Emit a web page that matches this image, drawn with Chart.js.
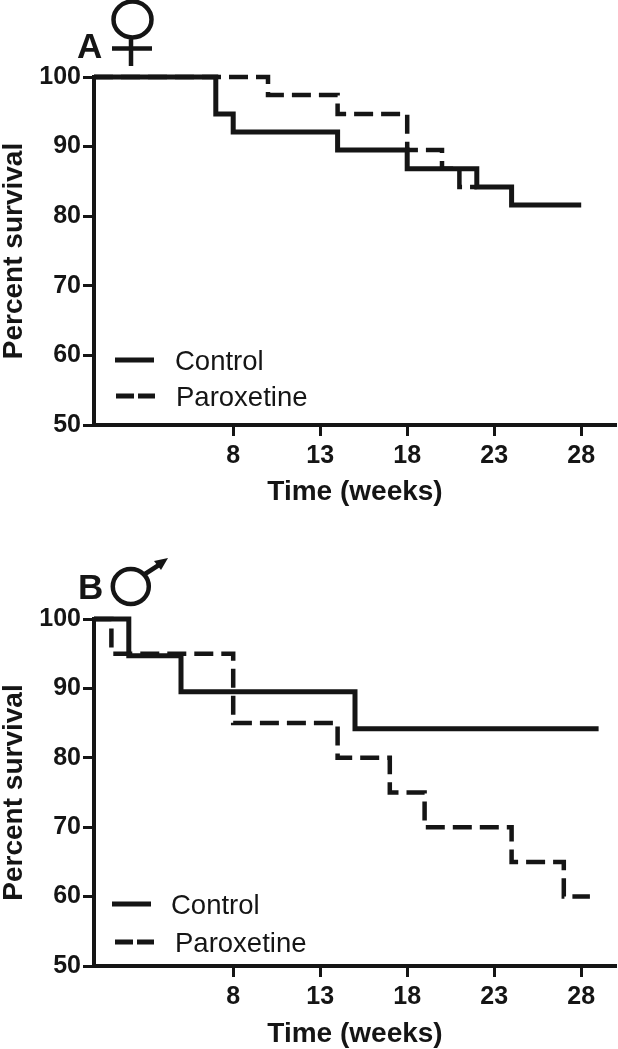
<!DOCTYPE html>
<html>
<head>
<meta charset="utf-8">
<style>
  html, body { margin: 0; padding: 0; background: #fff; }
  canvas { position: absolute; left: 0; }
</style>
<script src="https://cdn.jsdelivr.net/npm/chart.js@4"></script>
</head>
<body>
<canvas id="chartA" width="618" height="520" style="top:0"></canvas>
<canvas id="chartB" width="618" height="529" style="top:520px"></canvas>
<script>
const seriesNames = ['Control', 'Paroxetine'];
const xTicks = [8, 13, 18, 23, 28];
const yTicks = [50, 60, 70, 80, 90, 100];

// panel A, females. each point is the week where the curve steps down
const femaleControlWeeks = [0, 7, 8, 14, 18, 22, 24, 28];
const femaleControlSurvival = [100, 94.7, 92.1, 89.5, 86.8, 84.2, 81.6, 81.6];
const femaleParoxWeeks = [0, 10, 14, 18, 20, 21, 22];
const femaleParoxSurvival = [100, 97.4, 94.7, 89.5, 86.8, 84.2, 84.2];

// panel B, males
const maleControlWeeks = [0, 2, 5, 15, 29];
const maleControlSurvival = [100, 94.7, 89.5, 84.2, 84.2];
const maleParoxWeeks = [0, 1, 8, 14, 17, 19, 24, 27, 28.5];
const maleParoxSurvival = [100, 95, 85, 80, 75, 70, 65, 60, 60];

const ink = '#151515';
const fontFamily = '"Liberation Sans", Arial, sans-serif';

function toPoints(weeks, values) {
  return weeks.map((w, i) => ({ x: w, y: values[i] }));
}

// legend and panel mark sit at fixed spots in the figure
function annotations(draw) {
  return {
    id: 'annotations',
    afterDraw(chart) {
      const ctx = chart.ctx;
      ctx.save();
      ctx.strokeStyle = ink;
      ctx.fillStyle = ink;
      draw(ctx);
      ctx.restore();
    },
  };
}

function legendRow(ctx, name, x0, x1, y, textX, dash) {
  ctx.lineWidth = 5;
  ctx.setLineDash(dash);
  ctx.beginPath();
  ctx.moveTo(x0, y);
  ctx.lineTo(x1, y);
  ctx.stroke();
  ctx.setLineDash([]);
  ctx.font = '27.5px ' + fontFamily;
  ctx.textAlign = 'left';
  ctx.textBaseline = 'middle';
  ctx.fillText(name, textX, y + 2);
}

function panelLetter(ctx, letter, x, y) {
  ctx.font = 'bold 35px ' + fontFamily;
  ctx.textAlign = 'left';
  ctx.textBaseline = 'alphabetic';
  ctx.fillText(letter, x, y);
}

function makeChart(id, controlPts, paroxPts, plotTop, bottomHeight, titlePad, draw) {
  return new Chart(document.getElementById(id), {
    type: 'line',
    data: {
      datasets: [
        { label: seriesNames[0], data: controlPts, stepped: true, borderColor: ink, borderWidth: 5, pointRadius: 0, clip: false, borderCapStyle: 'butt' },
        { label: seriesNames[1], data: paroxPts, stepped: true, borderColor: ink, borderWidth: 4.5, borderDash: [19, 8], pointRadius: 0, clip: false, borderCapStyle: 'butt' },
      ],
    },
    options: {
      responsive: false,
      animation: false,
      layout: { padding: { top: plotTop, right: 2, left: 0, bottom: 0 } },
      plugins: { legend: { display: false }, tooltip: { enabled: false } },
      scales: {
        x: {
          type: 'linear',
          min: 0,
          max: 30,
          afterBuildTicks(axis) { axis.ticks = xTicks.map((v) => ({ value: v })); },
          afterFit(axis) { axis.height = bottomHeight; },
          border: { color: ink, width: 4 },
          grid: { drawOnChartArea: false, color: ink, tickLength: 11, tickWidth: 3, tickColor: ink },
          ticks: { color: ink, font: { family: fontFamily, size: 25, weight: 'bold' }, padding: 5, maxRotation: 0, autoSkip: false },
          title: { display: true, text: 'Time (weeks)', color: ink, font: { family: fontFamily, size: 28, weight: 'bold', lineHeight: 1 }, padding: { top: 0, bottom: titlePad } },
        },
        y: {
          min: 50,
          max: 100,
          afterBuildTicks(axis) { axis.ticks = yTicks.map((v) => ({ value: v })); },
          afterFit(axis) { axis.width = 94; },
          border: { color: ink, width: 4 },
          grid: { drawOnChartArea: false, color: ink, tickLength: 11, tickWidth: 3, tickColor: ink },
          ticks: { color: ink, font: { family: fontFamily, size: 25, weight: 'bold' }, padding: 2 },
          title: { display: true, text: 'Percent survival', color: ink, font: { family: fontFamily, size: 28, weight: 'bold', lineHeight: 1 }, padding: { top: 0, bottom: -2 } },
        },
      },
    },
    plugins: [annotations(draw)],
  });
}

makeChart('chartA', toPoints(femaleControlWeeks, femaleControlSurvival), toPoints(femaleParoxWeeks, femaleParoxSurvival), 77, 95, 14, (ctx) => {
  panelLetter(ctx, 'A', 77, 58);
  // female symbol
  ctx.lineWidth = 4.5;
  ctx.beginPath();
  ctx.ellipse(132.5, 19.5, 19, 18, 0, 0, Math.PI * 2);
  ctx.moveTo(131, 38);
  ctx.lineTo(131, 66);
  ctx.moveTo(112, 48.5);
  ctx.lineTo(152, 48.5);
  ctx.stroke();
  legendRow(ctx, seriesNames[0], 115, 154, 360, 175, []);
  legendRow(ctx, seriesNames[1], 116, 155, 396, 176, [18, 4]);
});

makeChart('chartB', toPoints(maleControlWeeks, maleControlSurvival), toPoints(maleParoxWeeks, maleParoxSurvival), 99, 83, 1, (ctx) => {
  panelLetter(ctx, 'B', 78, 79);
  // male symbol
  ctx.lineWidth = 4.5;
  ctx.beginPath();
  ctx.ellipse(130.8, 66.5, 18, 17.5, 0, 0, Math.PI * 2);
  ctx.moveTo(145, 54);
  ctx.lineTo(162, 43);
  ctx.stroke();
  ctx.beginPath();
  ctx.moveTo(168, 38);
  ctx.lineTo(154, 41);
  ctx.lineTo(161, 50);
  ctx.closePath();
  ctx.fill();
  legendRow(ctx, seriesNames[0], 112, 151, 384, 171, []);
  legendRow(ctx, seriesNames[1], 115, 154, 422, 175, [18, 4]);
});
</script>
</body>
</html>
